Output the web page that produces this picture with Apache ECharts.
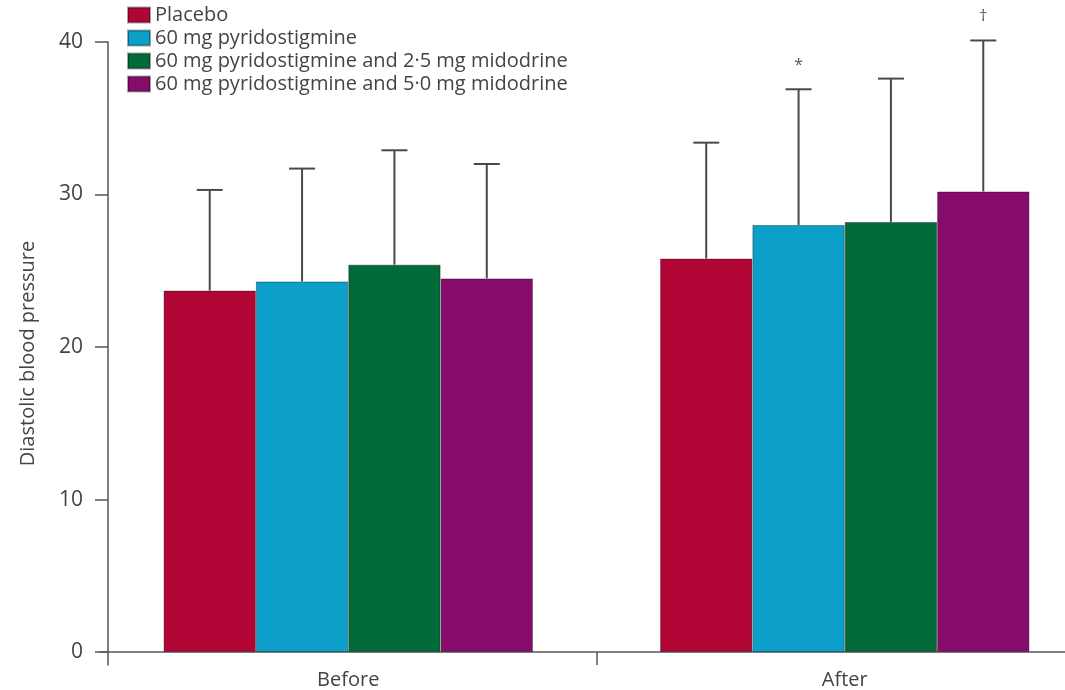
<!DOCTYPE html>
<html>
<head>
<meta charset="utf-8">
<script src="https://cdn.jsdelivr.net/npm/echarts@6/dist/echarts.min.js"></script>
<style>
  html, body { margin: 0; padding: 0; background: #fff; }
  #chart { width: 1065px; height: 690px; }
</style>
</head>
<body>
<div id="chart"></div>
<script>
// data
const groups = ["Before", "After"]
const seriesNames = [
    "Placebo",
    "60 mg pyridostigmine",
    "60 mg pyridostigmine and 2·5 mg midodrine",
    "60 mg pyridostigmine and 5·0 mg midodrine"
]
const placebo = [23.7, 25.8]
const pyrido = [24.3, 28.0]
const pyridoMido25 = [25.4, 28.2]
const pyridoMido50 = [24.5, 30.2]
// upper end of the error bars
const placeboErr = [30.3, 33.4]
const pyridoErr = [31.7, 36.9]
const pyridoMido25Err = [32.9, 37.6]
const pyridoMido50Err = [32.0, 40.1]
// significance marks above the error bars
const placeboSig = ["", ""]
const pyridoSig = ["", "*"]
const pyridoMido25Sig = ["", ""]
const pyridoMido50Sig = ["", "†"]
const yTicks = [0, 10, 20, 30, 40]

const colors = ["#b10535", "#0b9fc9", "#006b38", "#870b6b"]
const means = [placebo, pyrido, pyridoMido25, pyridoMido50]
const errs = [placeboErr, pyridoErr, pyridoMido25Err, pyridoMido50Err]
const sigs = [placeboSig, pyridoSig, pyridoMido25Sig, pyridoMido50Sig]

const FONT = "Open Sans"
const TEXT = "#444"
const AXIS = "#555"
const CAT_GAP = 0.256

const myChart = echarts.init(document.getElementById("chart"))

const barSeries = seriesNames.map((name, k) => ({
    name: name,
    type: "bar",
    data: means[k],
    barGap: "0%",
    barCategoryGap: CAT_GAP * 100 + "%",
    itemStyle: {
        color: colors[k],
        borderColor: "rgba(0,0,0,0.35)",
        borderWidth: 1
    },
    z: 2
}))

const errSeries = seriesNames.map((name, k) => ({
    type: "custom",
    data: groups.map((g, i) => [i, means[k][i], errs[k][i]]),
    z: 3,
    renderItem: (params, api) => {
        const band = api.size([1, 0])[0]
        const barW = band * (1 - CAT_GAP) / 4
        const base = api.coord([api.value(0), api.value(1)])
        const top = api.coord([api.value(0), api.value(2)])
        const x = base[0] + (k - 1.5) * barW
        const style = { stroke: "#4a4a4a", lineWidth: 2 }
        const children = [
            { type: "line", shape: { x1: x, y1: base[1], x2: x, y2: top[1] }, style: style },
            { type: "line", shape: { x1: x - 13, y1: top[1], x2: x + 13, y2: top[1] }, style: style }
        ]
        const mark = sigs[k][params.dataIndex]
        if (mark) {
            children.push({
                type: "text",
                style: {
                    text: mark,
                    x: x,
                    y: top[1] - 24,
                    align: "center",
                    verticalAlign: "middle",
                    fill: "#555",
                    font: "16px '" + FONT + "'"
                }
            })
        }
        return { type: "group", children: children }
    }
}))

const option = {
    animation: false,
    textStyle: { fontFamily: FONT },
    grid: { left: 100, right: -28, top: 42, bottom: 25, containLabel: false, outerBoundsMode: "none" },
    legend: {
        orient: "vertical",
        left: 122,
        top: 0,
        icon: "rect",
        itemWidth: 22,
        itemHeight: 15,
        itemGap: 3,
        data: seriesNames,
        textStyle: { fontSize: 20, color: TEXT, fontFamily: FONT }
    },
    xAxis: [
        {
            type: "category",
            data: groups,
            axisLine: { onZero: true, lineStyle: { color: AXIS, width: 1.5 } },
            axisTick: { show: false },
            axisLabel: { fontSize: 20, color: TEXT, margin: 5 }
        },
        {
            // only carries the tick between the two groups, drawn up to the zero line
            type: "value",
            min: 0,
            max: groups.length,
            position: "bottom",
            axisLine: { show: false, onZero: false },
            axisTick: {
                show: true,
                inside: true,
                length: 13,
                customValues: [1],
                lineStyle: { color: AXIS, width: 1.5 }
            },
            axisLabel: { show: false },
            splitLine: { show: false }
        }
    ],
    yAxis: {
        type: "value",
        min: -0.85,
        max: 40,
        offset: -8,
        name: "Diastolic blood pressure",
        nameLocation: "middle",
        nameGap: 70,
        nameTextStyle: { fontSize: 20, color: TEXT },
        axisLine: { show: true, lineStyle: { color: AXIS, width: 1.5 } },
        axisTick: {
            show: true,
            length: 13,
            customValues: yTicks,
            lineStyle: { color: AXIS, width: 1.5 }
        },
        axisLabel: { fontSize: 21, color: TEXT, margin: 25, customValues: yTicks },
        splitLine: { show: false }
    },
    series: barSeries.concat(errSeries)
}

myChart.setOption(option)
</script>
</body>
</html>
